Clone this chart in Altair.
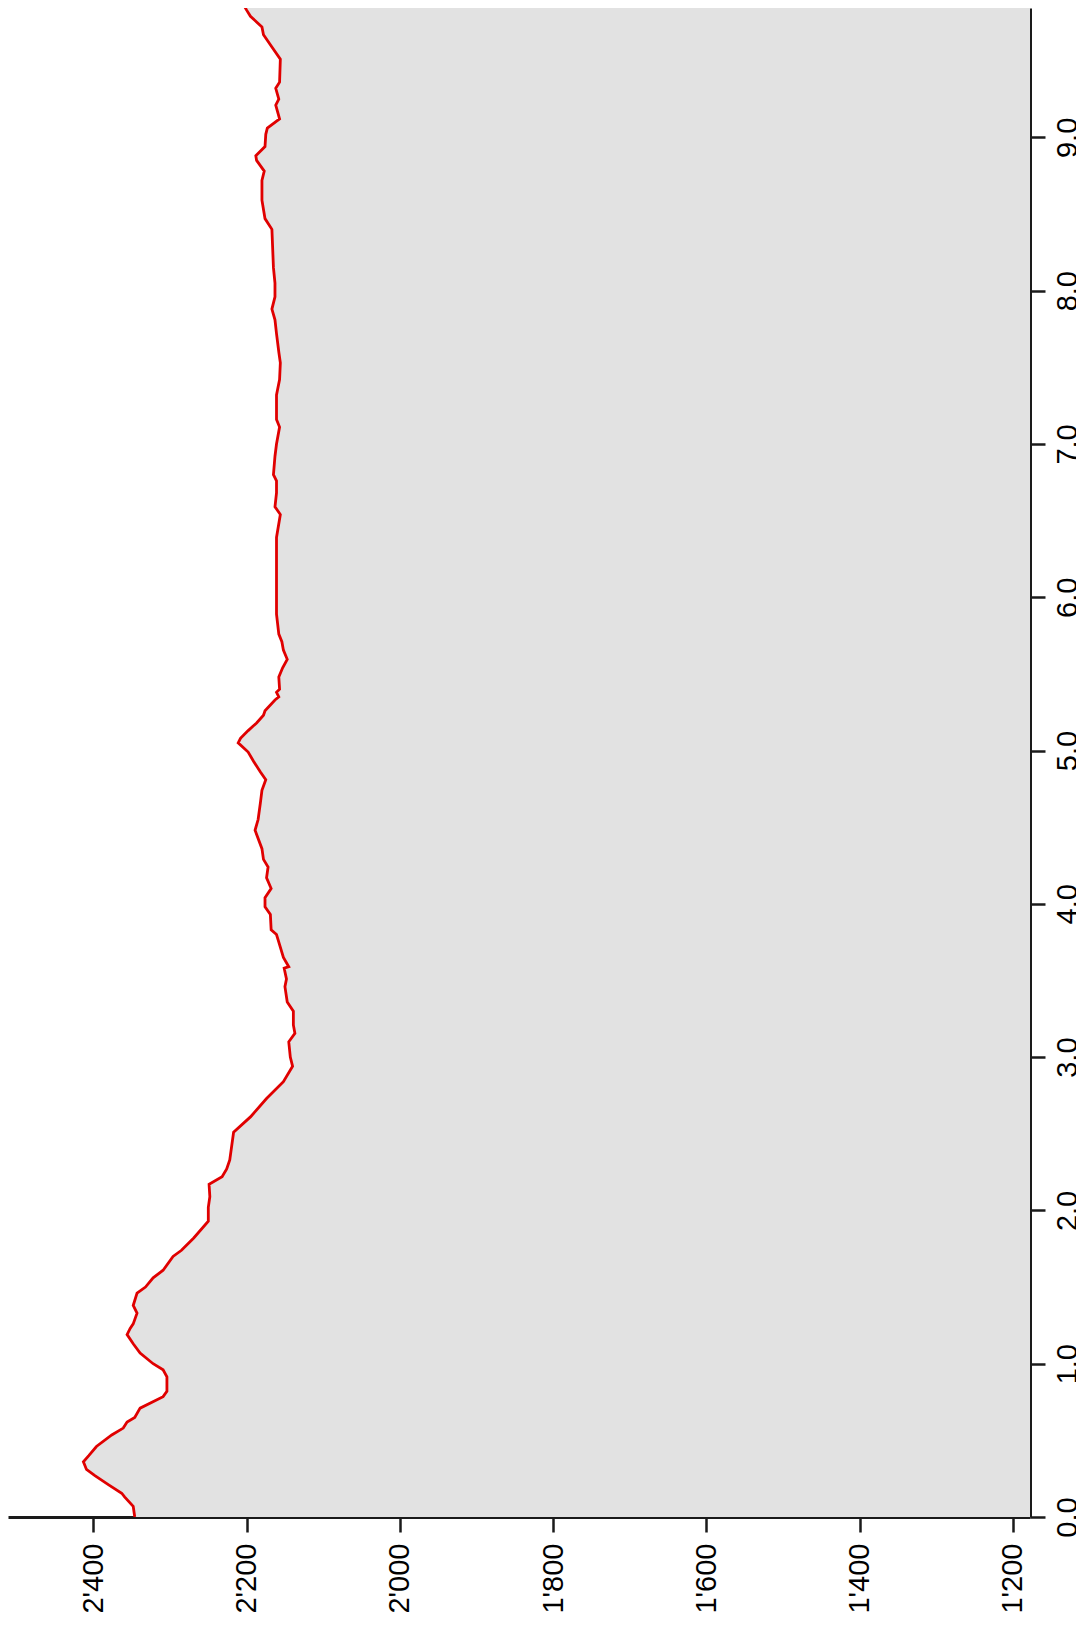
import altair as alt
import pandas as pd

# distance along route (km) and elevation (m)
dist = [0.00, 0.07, 0.13, 0.155, 0.21, 0.27, 0.31, 0.36, 0.40, 0.46, 0.535, 0.58, 0.62, 0.65,
        0.71, 0.785, 0.82, 0.915, 0.96, 1.00, 1.07, 1.13, 1.19, 1.23, 1.26, 1.33, 1.38, 1.46,
        1.50, 1.56, 1.61, 1.70, 1.74, 1.82, 1.93, 2.02, 2.09, 2.17, 2.22, 2.27, 2.33, 2.51,
        2.61, 2.73, 2.84, 2.94, 3.00, 3.10, 3.155, 3.21, 3.30, 3.36, 3.46, 3.51, 3.58, 3.59,
        3.65, 3.75, 3.80, 3.83, 3.93, 3.98, 4.04, 4.10, 4.17, 4.24, 4.29, 4.36, 4.48, 4.55,
        4.66, 4.74, 4.81, 4.86, 4.93, 4.99, 5.05, 5.08, 5.13, 5.18, 5.23, 5.26, 5.33, 5.35,
        5.38, 5.40, 5.48, 5.54, 5.595, 5.655, 5.71, 5.76, 5.89, 6.24, 6.39, 6.54, 6.59, 6.68,
        6.76, 6.80, 6.92, 7.00, 7.11, 7.16, 7.32, 7.42, 7.53, 7.60, 7.72, 7.81, 7.88, 7.96,
        8.05, 8.15, 8.40, 8.47, 8.59, 8.72, 8.78, 8.85, 8.88, 8.94, 9.02, 9.06, 9.12, 9.21,
        9.25, 9.32, 9.36, 9.51, 9.59, 9.67, 9.72, 9.79, 9.83, 9.90]
elev = [2346, 2348, 2359, 2363, 2380, 2398, 2409, 2413, 2406, 2396, 2376, 2361, 2356, 2346,
        2339, 2309, 2304, 2304, 2309, 2322, 2339, 2348, 2356, 2352, 2348, 2343, 2348, 2343,
        2332, 2322, 2309, 2296, 2285, 2269, 2250, 2250, 2248, 2249, 2232, 2226, 2222, 2217,
        2195, 2174, 2152, 2140, 2143, 2145, 2137, 2139, 2139, 2147, 2150, 2148, 2151, 2145,
        2152, 2158, 2161, 2168, 2169, 2176, 2176, 2168, 2174, 2172, 2178, 2180, 2189, 2185,
        2182, 2180, 2175, 2182, 2191, 2198, 2211, 2208, 2198, 2187, 2178, 2176, 2163, 2158,
        2161, 2157, 2158, 2153, 2147, 2152, 2154, 2158, 2161, 2161, 2161, 2156, 2163, 2161,
        2161, 2165, 2163, 2161, 2157, 2161, 2161, 2157, 2156, 2158, 2161, 2163, 2167, 2163,
        2163, 2165, 2167, 2176, 2180, 2180, 2177, 2187, 2188, 2176, 2175, 2173, 2157, 2162,
        2158, 2162, 2157, 2156, 2167, 2178, 2180, 2195, 2200, 2208]

elev_ticks = [1200, 1400, 1600, 1800, 2000, 2200, 2400]
dist_ticks = [0, 1, 2, 3, 4, 5, 6, 7, 8, 9]
elev_min, elev_max = 1177.7, 2511.4
dist_max = 9.844

df = pd.DataFrame({"d": dist, "e": elev})

W, H = 1022, 1509
FONT = "Liberation Sans"
AX = "#1a1a1a"

xscale = alt.Scale(domain=[elev_min, elev_max], reverse=True, nice=False, zero=False)
yscale = alt.Scale(domain=[0, dist_max], nice=False, zero=False)

xaxis = alt.Axis(values=elev_ticks, orient="bottom", title=None, grid=False,
                 labelExpr="replace(format(datum.value, ','), ',', \"'\")",
                 labelAngle=270, labelAlign="right", labelBaseline="middle",
                 labelPadding=11, labelFontSize=29, labelFont=FONT, labelColor="black",
                 tickSize=15, tickWidth=2.5, tickColor=AX, domainWidth=3, domainColor=AX,
                 labelOverlap=False, labelFlush=False)
yaxis = alt.Axis(values=dist_ticks, orient="right", title=None, grid=False, format=".1f",
                 labelAngle=270, labelAlign="center", labelBaseline="top",
                 labelPadding=8, labelFontSize=29, labelFont=FONT, labelColor="black",
                 tickSize=15, tickWidth=2.5, tickColor=AX, domainWidth=3, domainColor=AX,
                 labelOverlap=False, labelFlush=False)

area = alt.Chart(df).mark_area(color="#e2e2e2", orient="horizontal", clip=True).encode(
    y=alt.Y("d:Q", scale=yscale, axis=yaxis),
    x=alt.X("e:Q", scale=xscale, axis=xaxis),
    x2=alt.value(W),
)

line = alt.Chart(df).mark_line(color="#e00000", strokeWidth=2.8, clip=True).encode(
    y=alt.Y("d:Q", scale=yscale),
    x=alt.X("e:Q", scale=xscale),
    order=alt.Order("d:Q"),
)

chart = alt.layer(area, line).properties(
    width=W, height=H,
    autosize=alt.AutoSizeParams(type="none"),
    padding={"left": 0, "top": 0, "right": 46, "bottom": 110},
).configure_view(stroke=None)

chart.save("out.html", embed_options={"renderer": "svg", "actions": False})
